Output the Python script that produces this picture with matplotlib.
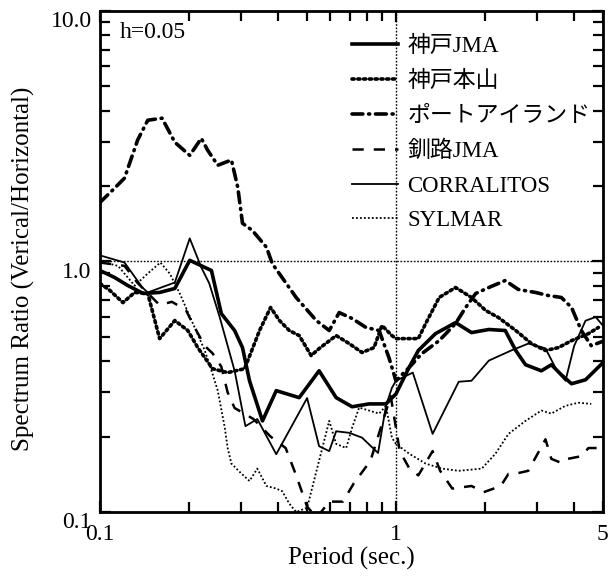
import matplotlib
matplotlib.use("Agg")
import matplotlib.pyplot as plt
import matplotlib.transforms as mtransforms
from matplotlib.ticker import FixedLocator, NullFormatter

plt.rcParams['font.family'] = ['Liberation Serif', 'Noto Sans CJK JP', 'DejaVu Sans']

# ---- data: response spectrum ratio V/H (h = 0.05) ----
kobe_jma_T = [0.100, 0.112, 0.124, 0.140, 0.159, 0.179, 0.201, 0.238, 0.257, 0.285, 0.303,
              0.320, 0.354, 0.394, 0.471, 0.550, 0.628, 0.711, 0.811, 0.925, 1.00, 1.107,
              1.19, 1.36, 1.59, 1.80, 2.06, 2.34, 2.54, 2.74, 3.10, 3.35, 3.62, 3.92, 4.37, 5.0]
kobe_jma_R = [0.920, 0.863, 0.802, 0.745, 0.752, 0.780, 1.01, 0.920, 0.619, 0.530, 0.453,
              0.334, 0.231, 0.305, 0.286, 0.366, 0.286, 0.263, 0.270, 0.270, 0.296, 0.377,
              0.441, 0.515, 0.570, 0.520, 0.535, 0.530, 0.441, 0.387, 0.366, 0.387, 0.353, 0.325, 0.337, 0.394]

motoyama_T = [0.100, 0.108, 0.1195, 0.131, 0.145, 0.159, 0.179, 0.198, 0.214, 0.240, 0.270,
              0.308, 0.346, 0.377, 0.404, 0.436, 0.471, 0.517, 0.550, 0.628, 0.695, 0.768,
              0.843, 0.897, 0.969, 1.00, 1.19, 1.26, 1.40, 1.59, 1.80, 2.01, 2.22, 2.54,
              2.87, 3.20, 3.54, 3.92, 4.47, 4.83]
motoyama_R = [0.817, 0.766, 0.685, 0.752, 0.745, 0.492, 0.581, 0.530, 0.453, 0.373, 0.360,
              0.373, 0.530, 0.655, 0.581, 0.530, 0.506, 0.421, 0.449, 0.506, 0.470, 0.433,
              0.453, 0.555, 0.506, 0.492, 0.492, 0.565, 0.718, 0.787, 0.718, 0.637, 0.597, 0.530,
              0.470, 0.441, 0.453, 0.483, 0.515, 0.545]

port_T = [0.100, 0.112, 0.121, 0.134, 0.145, 0.162, 0.179, 0.201, 0.220, 0.231, 0.250, 0.278,
          0.292, 0.303, 0.327, 0.365, 0.382, 0.460, 0.538, 0.595, 0.643, 0.711, 0.792, 0.877,
          0.947, 1.00, 1.107, 1.224, 1.40, 1.59, 1.72, 1.86, 2.06, 2.34, 2.59, 2.96, 3.27,
          3.62, 3.92, 4.23, 4.57, 5.0]
port_R = [1.72, 1.96, 2.15, 3.05, 3.66, 3.73, 2.99, 2.65, 3.10, 2.78, 2.42, 2.54,
          1.98, 1.42, 1.33, 1.14, 0.98, 0.718, 0.581, 0.530, 0.625, 0.592, 0.545, 0.530,
          0.413, 0.334, 0.377, 0.429, 0.483, 0.565, 0.655, 0.745, 0.787, 0.839, 0.773, 0.752, 0.731,
          0.718, 0.655, 0.530, 0.461, 0.48]

kushiro_T = [0.100, 0.121, 0.134, 0.159, 0.175, 0.195, 0.208, 0.226, 0.240, 0.257, 0.270,
             0.285, 0.330, 0.377, 0.424, 0.460, 0.501, 0.540, 0.595, 0.662, 0.720, 0.820,
             0.960, 1.03, 1.107, 1.19, 1.33, 1.41, 1.55, 1.80, 1.98, 2.26, 2.40, 2.59,
             2.80, 3.20, 3.35, 3.62, 3.81, 4.23, 4.47, 4.90]
kushiro_R = [0.99, 0.96, 0.82, 0.67, 0.69, 0.64, 0.55, 0.46, 0.43, 0.38, 0.30,
             0.26, 0.235, 0.20, 0.18, 0.14, 0.105, 0.095, 0.11, 0.11, 0.13, 0.16,
             0.29, 0.175, 0.150, 0.140, 0.175, 0.146, 0.124, 0.127, 0.120, 0.127, 0.142, 0.143,
             0.146, 0.195, 0.163, 0.157, 0.163, 0.167, 0.180, 0.180]

corralitos_T = [0.100, 0.121, 0.139, 0.145, 0.179, 0.201, 0.220, 0.234, 0.254, 0.285, 0.310,
                0.340, 0.394, 0.501, 0.550, 0.595, 0.628, 0.695, 0.768, 0.870, 0.925, 0.969,
                1.00, 1.14, 1.33, 1.63, 1.80, 2.06, 2.45, 2.80, 3.20, 3.50, 3.74, 4.00,
                4.37, 4.73, 5.0]
corralitos_R = [1.057, 0.990, 0.787, 0.752, 0.824, 1.236, 0.946, 0.817, 0.597, 0.366, 0.220,
                0.235, 0.170, 0.285, 0.183, 0.175, 0.210, 0.207, 0.198, 0.172, 0.265, 0.313,
                0.334, 0.360, 0.205, 0.331, 0.334, 0.402, 0.441, 0.470, 0.450, 0.366, 0.334, 0.460,
                0.580, 0.600, 0.555]

sylmar_T = [0.100, 0.115, 0.131, 0.145, 0.160, 0.172, 0.186, 0.206, 0.226, 0.240, 0.250,
            0.264, 0.270, 0.278, 0.301, 0.320, 0.340, 0.365, 0.394, 0.413, 0.436, 0.460,
            0.501, 0.595, 0.628, 0.679, 0.711, 0.751, 0.811, 0.877, 0.925, 0.969, 1.00,
            1.107, 1.26, 1.43, 1.63, 1.95, 2.17, 2.40, 2.74, 3.10, 3.35, 3.73, 4.13, 4.57]
sylmar_R = [1.00, 0.96, 0.80, 0.895, 0.99, 0.895, 0.745, 0.565, 0.441, 0.356, 0.305,
            0.217, 0.180, 0.156, 0.142, 0.133, 0.149, 0.127, 0.124, 0.121, 0.108, 0.100,
            0.104, 0.231, 0.187, 0.180, 0.217, 0.261, 0.254, 0.247, 0.265, 0.198, 0.187,
            0.171, 0.156, 0.149, 0.146, 0.149, 0.171, 0.205, 0.231, 0.254, 0.247, 0.265, 0.273, 0.270]

labels = ['神戸JMA', '神戸本山', 'ポートアイランド', '釧路JMA', 'CORRALITOS', 'SYLMAR']

x_ticks = [0.1, 1, 5]
x_tick_labels = ['0.1', '1', '5']
y_ticks = [0.1, 1, 10]
y_tick_labels = ['0.1', '1.0', '10.0']

# ---- figure ----
fig = plt.figure(figsize=(6.12, 5.78), dpi=100)
ax = fig.add_axes([0.1634, 0.1142, 0.8216, 0.867])
ax.set_xscale('log')
ax.set_yscale('log')
ax.set_xlim(0.1, 5)
ax.set_ylim(0.1, 10)

# reference lines at ratio 1 and period 1 s
ax.axhline(1.0, color='black', lw=1.0, ls=(0, (1.2, 1.2)), zorder=1)
ax.axvline(1.0, color='black', lw=1.0, ls=(0, (1.2, 1.2)), zorder=1)

series = [
    (kobe_jma_T, kobe_jma_R, dict(lw=2.6, ls='-')),
    (motoyama_T, motoyama_R, dict(lw=2.6, ls=(0, (0.6, 1.0)), dash_capstyle='round')),
    (port_T, port_R, dict(lw=2.6, ls=(0, (3.0, 1.6, 0.3, 1.6)), dash_capstyle='round')),
    (kushiro_T, kushiro_R, dict(lw=1.8, ls=(0, (4.5, 4.0)))),
    (corralitos_T, corralitos_R, dict(lw=1.3, ls='-')),
    (sylmar_T, sylmar_R, dict(lw=1.3, ls=(0, (1.0, 1.2)))),
]
for (T, R, style), lab in zip(series, labels):
    ax.plot(T, R, color='black', label=lab, **style)

# ticks
ax.xaxis.set_major_locator(FixedLocator(x_ticks))
ax.set_xticklabels(x_tick_labels)
ax.xaxis.set_minor_locator(FixedLocator([0.2, 0.3, 0.4, 0.5, 0.6, 0.7, 0.8, 0.9, 2, 3, 4]))
ax.xaxis.set_minor_formatter(NullFormatter())
ax.yaxis.set_major_locator(FixedLocator(y_ticks))
ax.set_yticklabels(y_tick_labels)
ax.yaxis.set_minor_locator(FixedLocator([0.2, 0.3, 0.4, 0.5, 0.6, 0.7, 0.8, 0.9,
                                         2, 3, 4, 5, 6, 7, 8, 9]))
ax.yaxis.set_minor_formatter(NullFormatter())
ax.tick_params(which='both', direction='in', top=True, right=True, width=1.6, labelsize=17)
ax.tick_params(which='major', length=8)
ax.tick_params(which='minor', length=7)
ax.tick_params(axis='x', which='major', pad=9)
ax.tick_params(axis='y', which='major', pad=6)
for s in ax.spines.values():
    s.set_linewidth(2.0)

# y tick labels sit a little below their ticks
shift = mtransforms.ScaledTranslation(0, -6 / 72, fig.dpi_scale_trans)
for lbl in ax.get_yticklabels():
    lbl.set_transform(lbl.get_transform() + shift)

ax.set_xlabel('Period (sec.)', fontsize=18, labelpad=1)
ax.set_ylabel('Spectrum Ratio (Verical/Horizontal)', fontsize=18, labelpad=11)
ax.yaxis.label.set_y(0.485)

ax.text(0.04, 0.978, 'h=0.05', transform=ax.transAxes, fontsize=17, va='top', ha='left')

leg = ax.legend(loc='upper left', bbox_to_anchor=(0.502, 0.950), frameon=False,
                fontsize=16.5, handlelength=2.0, handletextpad=0.4,
                labelspacing=0.6, borderpad=0, borderaxespad=0)

fig.savefig('out.png', dpi=100)
